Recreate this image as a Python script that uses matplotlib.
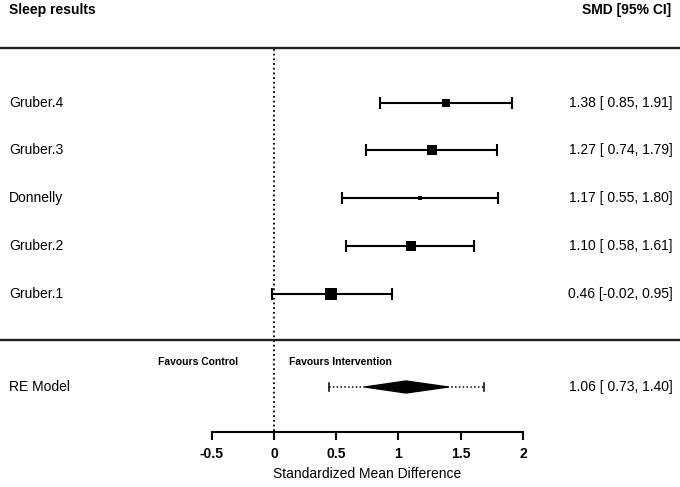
import numpy as np
import matplotlib
matplotlib.use("Agg")
from matplotlib import pyplot as plt
from matplotlib.patches import Polygon

plt.rcParams['font.family'] = ['Liberation Sans', 'DejaVu Sans']

# study data
studies = ["Gruber.4", "Gruber.3", "Donnelly", "Gruber.2", "Gruber.1"]
smd = [1.38, 1.27, 1.17, 1.10, 0.46]
ci_lo = [0.85, 0.74, 0.55, 0.58, -0.02]
ci_hi = [1.91, 1.79, 1.80, 1.61, 0.95]
marker_px = [8.5, 9, 4, 9, 11]

# random effects model
re_est = 1.06
re_lo = 0.73
re_hi = 1.40
pi_lo = 0.44
pi_hi = 1.69

xticks = [-0.5, 0, 0.5, 1, 1.5, 2]

W, H = 680, 487
fig = plt.figure(figsize=(W / 100, H / 100), dpi=100)
ax = fig.add_axes([0, 0, 1, 1])
# x in SMD units (0 -> 274 px, 124.5 px per unit), y in pixel rows
px_per_unit = 124.5
x0 = 274
ax.set_xlim(-x0 / px_per_unit, (W - x0) / px_per_unit)
ax.set_ylim(H, 0)

rows_y = [103, 150, 198, 246, 294]
re_y = 387
axis_y = 432

def px2x(p):
    return (p - x0) / px_per_unit

# header
ax.text(px2x(9), 10, "Sleep results", fontsize=10, fontweight='bold', va='center', ha='left')
ax.text(px2x(671), 10, "SMD [95% CI]", fontsize=10, fontweight='bold', va='center', ha='right')

# separators
for yy in [48, 340]:
    ax.plot([px2x(0), px2x(W)], [yy, yy], color='#222222', lw=1.7, solid_capstyle='butt')

# reference line
ax.plot([0, 0], [49, axis_y], color='black', lw=1.3, ls=(0, (1, 1.6)))

# studies
for name, m, lo, hi, ms, yy in zip(studies, smd, ci_lo, ci_hi, marker_px, rows_y):
    ax.errorbar(m, yy, xerr=[[m - lo], [hi - m]], fmt='none', ecolor='black',
                elinewidth=1.5, capsize=4, capthick=1.5)
    ax.plot(m, yy, marker='s', color='black', ms=ms * 0.75, mew=0)
    ax.text(px2x(9), yy, name, fontsize=10, va='center', ha='left')
    ax.text(px2x(673), yy, "%.2f [%5.2f, %.2f]" % (m, lo, hi), fontsize=10, va='center', ha='right')

# RE model: prediction interval + diamond
ax.plot([pi_lo, pi_hi], [re_y, re_y], color='black', lw=1.1, ls=(0, (1, 1.5)))
for xv in [pi_lo, pi_hi]:
    ax.plot([xv, xv], [re_y - 4, re_y + 4], color='black', lw=1.1)
diamond = Polygon([[re_lo, re_y], [re_est, re_y - 6], [re_hi, re_y], [re_est, re_y + 6]],
                  closed=True, facecolor='black', edgecolor='black')
ax.add_patch(diamond)
ax.text(px2x(9), re_y, "RE Model", fontsize=10, va='center', ha='left')
ax.text(px2x(673), re_y, "%.2f [%5.2f, %.2f]" % (re_est, re_lo, re_hi), fontsize=10, va='center', ha='right')

ax.text(px2x(238), 362, "Favours Control", fontsize=7.5, fontweight='bold', va='center', ha='right')
ax.text(px2x(289), 362, "Favours Intervention", fontsize=7.5, fontweight='bold', va='center', ha='left')

# x axis
for s in ['left', 'right', 'top']:
    ax.spines[s].set_visible(False)
ax.spines['bottom'].set_position(('data', axis_y))
ax.spines['bottom'].set_bounds(-0.5, 2)
ax.spines['bottom'].set_linewidth(1.5)
ax.set_xticks(xticks)
ax.set_xticklabels(["-0.5", "0", "0.5", "1", "1.5", "2"], fontweight='bold')
ax.tick_params(axis='x', direction='out', length=6, width=1.5, labelsize=10, pad=5)
ax.set_yticks([])
ax.text(0.75, 474, "Standardized Mean Difference", fontsize=10, va='center', ha='center')

fig.savefig("out.png", dpi=100)
